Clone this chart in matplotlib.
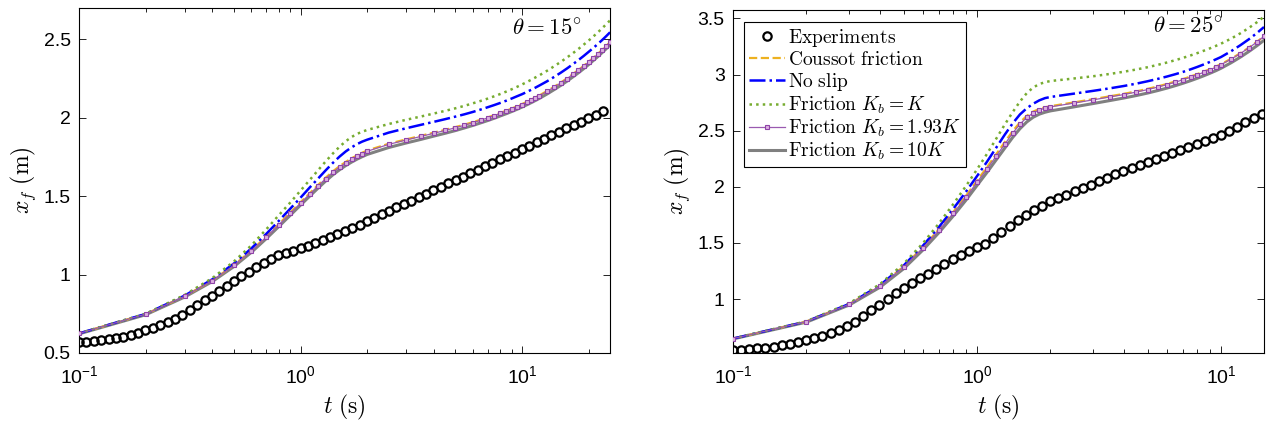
import matplotlib
matplotlib.use('Agg')
import matplotlib.pyplot as plt
from matplotlib.font_manager import FontProperties
from matplotlib.ticker import NullFormatter

plt.rcParams['font.family'] = 'Liberation Sans'
plt.rcParams['mathtext.fontset'] = 'custom'
plt.rcParams['mathtext.rm'] = 'Liberation Sans'
plt.rcParams['mathtext.it'] = 'Liberation Sans:italic'
plt.rcParams['mathtext.bf'] = 'Liberation Sans:bold'
plt.rcParams['mathtext.sf'] = 'Liberation Sans'

# ---- experiments (front position), both inclinations ----
t_exp_l = [0.1, 0.108, 0.1166, 0.1259, 0.1359, 0.1468, 0.1585, 0.1711, 0.1848, 0.1995,
           0.2154, 0.2326, 0.2512, 0.2712, 0.2929, 0.3162, 0.3415, 0.3687, 0.3981, 0.4299,
           0.4642, 0.5012, 0.5412, 0.5843, 0.631, 0.6813, 0.7356, 0.7943, 0.8577, 0.9261,
           1.0, 1.08, 1.166, 1.259, 1.359, 1.468, 1.585, 1.711, 1.848, 1.995,
           2.154, 2.326, 2.512, 2.712, 2.929, 3.162, 3.415, 3.687, 3.981, 4.299,
           4.642, 5.012, 5.412, 5.843, 6.31, 6.813, 7.356, 7.943, 8.577, 9.261,
           10.0, 10.8, 11.66, 12.59, 13.59, 14.68, 15.85, 17.11, 18.48, 19.95,
           21.54, 23.26]
x_exp_l = [0.570, 0.573, 0.577, 0.581, 0.587, 0.595, 0.605, 0.617, 0.630, 0.645,
           0.660, 0.676, 0.695, 0.718, 0.745, 0.775, 0.805, 0.835, 0.866, 0.897,
           0.928, 0.958, 0.988, 1.018, 1.047, 1.075, 1.100, 1.122, 1.140, 1.153,
           1.168, 1.183, 1.200, 1.218, 1.237, 1.256, 1.276, 1.297, 1.318, 1.340,
           1.362, 1.384, 1.406, 1.428, 1.450, 1.472, 1.494, 1.516, 1.537, 1.559,
           1.581, 1.603, 1.625, 1.647, 1.669, 1.690, 1.712, 1.734, 1.756, 1.778,
           1.800, 1.822, 1.844, 1.866, 1.888, 1.910, 1.932, 1.954, 1.976, 1.998,
           2.020, 2.042]

t_exp_r = t_exp_l[:66]
x_exp_r = [0.545, 0.549, 0.554, 0.560, 0.567, 0.576, 0.587, 0.600, 0.616, 0.635,
           0.652, 0.672, 0.695, 0.722, 0.760, 0.800, 0.850, 0.900, 0.950, 1.000,
           1.050, 1.098, 1.142, 1.184, 1.226, 1.268, 1.309, 1.355, 1.390, 1.425,
           1.460, 1.495, 1.545, 1.600, 1.650, 1.700, 1.745, 1.790, 1.830, 1.870,
           1.900, 1.930, 1.960, 1.990, 2.020, 2.050, 2.080, 2.110, 2.140, 2.166,
           2.192, 2.218, 2.244, 2.271, 2.298, 2.325, 2.352, 2.380, 2.408, 2.436,
           2.464, 2.500, 2.536, 2.573, 2.611, 2.650]

# ---- simulations, theta = 15 deg ----
t_sim_l = [0.1, 0.2, 0.3, 0.4, 0.5, 0.6, 0.7, 0.8, 0.9, 1.0, 1.1, 1.2, 1.3, 1.4, 1.5, 1.6, 1.7, 1.8, 1.9, 2.0,
           2.5, 3.0, 3.5, 4.0, 4.5, 5.0, 5.5, 6.0, 6.5, 7.0, 7.5, 8.0, 8.5, 9.0, 9.5, 10.0, 10.5, 11.0, 11.5, 12.0,
           13, 14, 15, 16, 17, 18, 19, 20, 21, 22, 23, 24, 25]
coussot_l = [0.625, 0.748, 0.862, 0.963, 1.060, 1.153, 1.242, 1.323, 1.396, 1.461, 1.519, 1.571, 1.618, 1.658, 1.691, 1.718, 1.741, 1.760, 1.777, 1.791,
             1.834, 1.862, 1.885, 1.905, 1.923, 1.940, 1.956, 1.972, 1.987, 2.002, 2.017, 2.031, 2.045, 2.059, 2.073, 2.087, 2.101, 2.115, 2.129, 2.143,
             2.171, 2.198, 2.225, 2.252, 2.279, 2.305, 2.331, 2.357, 2.382, 2.407, 2.432, 2.457, 2.482]
noslip_l = [0.625, 0.749, 0.866, 0.970, 1.070, 1.167, 1.259, 1.344, 1.421, 1.490, 1.555, 1.612, 1.665, 1.712, 1.752, 1.785, 1.811, 1.832, 1.848, 1.860,
            1.905, 1.933, 1.955, 1.974, 1.991, 2.007, 2.022, 2.037, 2.052, 2.067, 2.081, 2.095, 2.109, 2.123, 2.137, 2.150, 2.164, 2.178, 2.192, 2.206,
            2.233, 2.261, 2.288, 2.315, 2.342, 2.368, 2.394, 2.420, 2.445, 2.470, 2.495, 2.520, 2.545]
fric1_l = [0.625, 0.750, 0.870, 0.978, 1.083, 1.186, 1.288, 1.380, 1.460, 1.535, 1.603, 1.665, 1.722, 1.772, 1.815, 1.850, 1.877, 1.897, 1.911, 1.922,
           1.960, 1.987, 2.008, 2.027, 2.044, 2.060, 2.076, 2.092, 2.107, 2.122, 2.137, 2.152, 2.167, 2.182, 2.197, 2.212, 2.227, 2.242, 2.257, 2.271,
           2.300, 2.329, 2.357, 2.385, 2.412, 2.439, 2.466, 2.492, 2.518, 2.544, 2.570, 2.596, 2.621]
fric193_l = [0.625, 0.748, 0.862, 0.962, 1.058, 1.150, 1.238, 1.318, 1.390, 1.455, 1.513, 1.565, 1.612, 1.652, 1.685, 1.712, 1.735, 1.755, 1.772, 1.786,
             1.830, 1.858, 1.881, 1.901, 1.919, 1.936, 1.952, 1.968, 1.984, 1.999, 2.014, 2.028, 2.042, 2.056, 2.070, 2.084, 2.098, 2.112, 2.126, 2.140,
             2.168, 2.196, 2.223, 2.250, 2.277, 2.303, 2.329, 2.355, 2.380, 2.405, 2.430, 2.455, 2.480]
fric10_l = [0.622, 0.744, 0.857, 0.956, 1.051, 1.142, 1.229, 1.308, 1.379, 1.443, 1.500, 1.551, 1.597, 1.636, 1.668, 1.695, 1.717, 1.736, 1.752, 1.766,
            1.810, 1.839, 1.862, 1.883, 1.901, 1.918, 1.935, 1.951, 1.967, 1.982, 1.997, 2.012, 2.026, 2.040, 2.054, 2.068, 2.082, 2.096, 2.110, 2.124,
            2.152, 2.180, 2.207, 2.234, 2.261, 2.287, 2.313, 2.339, 2.365, 2.390, 2.415, 2.440, 2.465]

# ---- simulations, theta = 25 deg ----
t_sim_r = [0.1, 0.2, 0.3, 0.4, 0.5, 0.6, 0.7, 0.8, 0.9, 1.0, 1.1, 1.2, 1.3, 1.4, 1.5, 1.6, 1.7, 1.8, 1.9, 2.0,
           2.5, 3.0, 3.5, 4.0, 4.5, 5.0, 5.5, 6.0, 6.5, 7.0, 7.5, 8.0, 8.5, 9.0, 9.5, 10.0,
           11, 12, 13, 14, 15]
coussot_r = [0.648, 0.800, 0.956, 1.118, 1.290, 1.462, 1.624, 1.776, 1.918, 2.054, 2.176, 2.292, 2.398, 2.496, 2.574, 2.632, 2.670, 2.694, 2.708, 2.718,
             2.752, 2.781, 2.806, 2.828, 2.850, 2.872, 2.894, 2.916, 2.938, 2.960, 2.982, 3.004, 3.026, 3.048, 3.070, 3.092,
             3.141, 3.190, 3.240, 3.290, 3.341]
noslip_r = [0.648, 0.800, 0.958, 1.123, 1.298, 1.475, 1.645, 1.805, 1.955, 2.095, 2.225, 2.350, 2.465, 2.565, 2.645, 2.700, 2.740, 2.770, 2.790, 2.800,
            2.830, 2.855, 2.877, 2.898, 2.919, 2.940, 2.961, 2.982, 3.003, 3.024, 3.046, 3.068, 3.090, 3.112, 3.134, 3.156,
            3.208, 3.261, 3.314, 3.368, 3.423]
fric1_r = [0.648, 0.802, 0.963, 1.133, 1.313, 1.497, 1.677, 1.847, 2.005, 2.155, 2.295, 2.430, 2.555, 2.665, 2.760, 2.835, 2.885, 2.915, 2.932, 2.942,
           2.965, 2.985, 3.005, 3.025, 3.045, 3.065, 3.086, 3.107, 3.128, 3.149, 3.170, 3.191, 3.212, 3.233, 3.254, 3.275,
           3.320, 3.367, 3.415, 3.464, 3.515]
fric193_r = [0.648, 0.800, 0.955, 1.115, 1.285, 1.455, 1.615, 1.765, 1.905, 2.040, 2.160, 2.275, 2.380, 2.478, 2.558, 2.618, 2.658, 2.684, 2.700, 2.712,
             2.746, 2.775, 2.800, 2.822, 2.844, 2.866, 2.888, 2.910, 2.932, 2.954, 2.976, 2.998, 3.020, 3.042, 3.064, 3.088,
             3.137, 3.187, 3.237, 3.288, 3.340]
fric10_r = [0.645, 0.795, 0.948, 1.105, 1.270, 1.437, 1.595, 1.742, 1.880, 2.012, 2.130, 2.242, 2.345, 2.440, 2.518, 2.578, 2.620, 2.647, 2.664, 2.676,
            2.712, 2.742, 2.768, 2.791, 2.813, 2.835, 2.857, 2.879, 2.901, 2.923, 2.945, 2.967, 2.989, 3.011, 3.033, 3.056,
            3.105, 3.155, 3.205, 3.255, 3.305]

labels = [r'$\mathrm{Experiments}$', r'$\mathrm{Coussot\ friction}$', r'$\mathrm{No\ slip}$',
          r'$\mathrm{Friction}\ K_b = K$', r'$\mathrm{Friction}\ K_b = 1.93K$', r'$\mathrm{Friction}\ K_b = 10K$']

cm_lab = FontProperties(size=17, math_fontfamily='cm')
cm_txt = FontProperties(size=16.5, math_fontfamily='cm')
cm_leg = FontProperties(size=14, math_fontfamily='cm')


def panel(ax, t_exp, x_exp, t_sim, coussot, noslip, fric1, fric193, fric10):
    h = []
    h += ax.plot(t_exp, x_exp, 'o', ms=6, mfc='none', mec='k', mew=1.6, zorder=6)
    h += ax.plot(t_sim, coussot, '--', color='#EDB120', lw=1.6, zorder=4)
    h += ax.plot(t_sim, noslip, '-.', color='#0000FF', lw=1.8, zorder=4)
    h += ax.plot(t_sim, fric1, ':', color='#77AC30', lw=1.8, zorder=4)
    h += ax.plot(t_sim, fric193, '-', color='#9A5AB0', lw=0.9, marker='s', ms=3.4,
                 mfc='#DDB0E0', mec='#8E44A8', mew=0.8, zorder=5)
    h += ax.plot(t_sim, fric10, '-', color='#808080', lw=2.2, zorder=3)
    ax.set_xscale('log')
    ax.xaxis.set_minor_formatter(NullFormatter())
    ax.tick_params(which='both', direction='in', top=True, right=True, width=0.6, labelsize=14)
    ax.tick_params(which='major', length=5)
    ax.tick_params(which='minor', length=3)
    ax.tick_params(axis='x', which='major', pad=9)
    ax.tick_params(axis='y', which='major', pad=6)
    for s in ax.spines.values():
        s.set_linewidth(0.8)
    ax.set_xlabel(r'$t\ \mathrm{(s)}$', fontproperties=cm_lab, labelpad=4)
    ax.set_ylabel(r'$x_f\ \mathrm{(m)}$', fontproperties=cm_lab, labelpad=4)
    return h


fig = plt.figure(figsize=(12.71, 4.24), dpi=100)
ax1 = fig.add_axes([0.0622, 0.1675, 0.4178, 0.8137])
ax2 = fig.add_axes([0.5767, 0.1675, 0.4178, 0.809])

panel(ax1, t_exp_l, x_exp_l, t_sim_l, coussot_l, noslip_l, fric1_l, fric193_l, fric10_l)
ax1.set_xlim(0.1, 25)
ax1.set_ylim(0.5, 2.7)
ax1.set_yticks([0.5, 1, 1.5, 2, 2.5])
ax1.set_yticklabels(['0.5', '1', '1.5', '2', '2.5'])
ax1.text(0.947, 0.94, r'$\theta = 15^{\circ}$', transform=ax1.transAxes,
         ha='right', va='center', fontproperties=cm_txt)

h = panel(ax2, t_exp_r, x_exp_r, t_sim_r, coussot_r, noslip_r, fric1_r, fric193_r, fric10_r)
ax2.set_xlim(0.1, 15)
ax2.set_ylim(0.52, 3.575)
ax2.set_yticks([1, 1.5, 2, 2.5, 3, 3.5])
ax2.set_yticklabels(['1', '1.5', '2', '2.5', '3', '3.5'])
ax2.text(0.923, 0.95, r'$\theta = 25^{\circ}$', transform=ax2.transAxes,
         ha='right', va='center', fontproperties=cm_txt)

leg = ax2.legend(h, labels, loc='upper left', bbox_to_anchor=(0.021, 0.965), borderaxespad=0,
                 prop=cm_leg, handlelength=1.85, handletextpad=0.15, labelspacing=0.1,
                 borderpad=0.25, fancybox=False, framealpha=1, edgecolor='k', numpoints=1)
leg.get_frame().set_linewidth(0.8)

fig.savefig('out.png', dpi=100)
